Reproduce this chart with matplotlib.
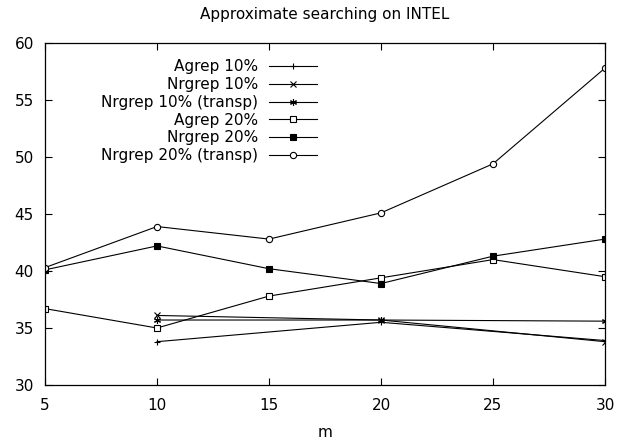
import matplotlib
matplotlib.use("Agg")
import matplotlib.pyplot as plt

plt.rcParams['font.family'] = ['DejaVu Sans']

m = [5, 10, 15, 20, 25, 30]
m_10 = [10, 20, 30]

agrep10 = [33.8, 35.5, 33.9]
nrgrep10 = [36.1, 35.7, 33.8]
nrgrep10_tr = [35.7, 35.7, 35.6]
agrep20 = [36.7, 35.0, 37.8, 39.4, 41.0, 39.5]
nrgrep20 = [40.1, 42.2, 40.2, 38.9, 41.3, 42.8]
nrgrep20_tr = [40.3, 43.9, 42.8, 45.1, 49.4, 57.8]

labels = ['Agrep 10%', 'Nrgrep 10%', 'Nrgrep 10% (transp)',
          'Agrep 20%', 'Nrgrep 20%', 'Nrgrep 20% (transp)']

fig = plt.figure(figsize=(6.26, 4.44), dpi=100)
ax = fig.add_axes([45/626, 59/444, 560/626, 342/444])

lw = 0.8
ax.plot(m_10, agrep10, color='k', lw=lw, marker='+', ms=5, mew=0.8, label=labels[0])
ax.plot(m_10, nrgrep10, color='k', lw=lw, marker='x', ms=4, mew=0.8, label=labels[1])
ax.plot(m_10, nrgrep10_tr, color='k', lw=lw, marker=(6, 2, 0), ms=5, mew=0.8, label=labels[2])
ax.plot(m, agrep20, color='k', lw=lw, marker='s', ms=4, mfc='white', mew=0.8, label=labels[3])
ax.plot(m, nrgrep20, color='k', lw=lw, marker='s', ms=4, mfc='k', mew=0.8, label=labels[4])
ax.plot(m, nrgrep20_tr, color='k', lw=lw, marker='o', ms=4.5, mfc='white', mew=0.8, label=labels[5])

ax.set_xlim(5, 30)
ax.set_ylim(30, 60)
ax.set_xticks([5, 10, 15, 20, 25, 30])
ax.set_yticks([30, 35, 40, 45, 50, 55, 60])
ax.tick_params(direction='in', top=True, right=True, length=5, width=0.8, labelsize=11)
ax.tick_params(axis='x', pad=9)
ax.tick_params(axis='y', pad=8)
for s in ax.spines.values():
    s.set_linewidth(0.9)

ax.set_xlabel('m', fontsize=11, labelpad=9)
ax.set_title('Approximate searching on INTEL', fontsize=11, pad=17)

leg = ax.legend(loc='upper right', bbox_to_anchor=(0.486, 0.952), frameon=False,
                markerfirst=False, fontsize=11, handlelength=3.15, handletextpad=0.72,
                labelspacing=0.18, borderpad=0, borderaxespad=0)

fig.savefig('out.png', dpi=100)
